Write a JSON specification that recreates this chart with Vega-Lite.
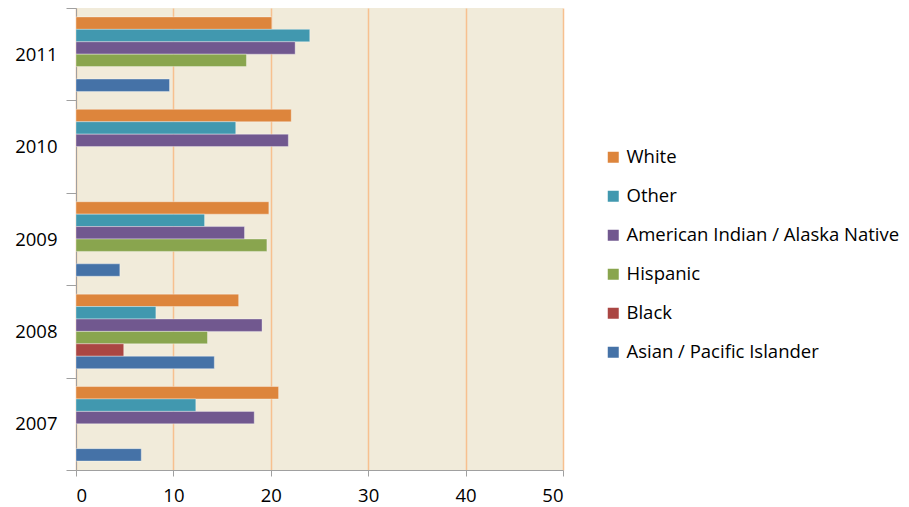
{
  "$schema": "https://vega.github.io/schema/vega-lite/v6.json",
  "width": 487,
  "height": 462,
  "autosize": {"type": "none"},
  "padding": {"left": 76, "top": 8, "right": 346, "bottom": 37},
  "background": "#ffffff",
  "config": {
    "view": {"fill": "#F1EBDA", "stroke": null},
    "font": "Open Sans"
  },
  "data": {
    "values": [
      {"year": "2011", "race": "White", "value": 20.1},
      {"year": "2011", "race": "Other", "value": 24.0},
      {"year": "2011", "race": "American Indian / Alaska Native", "value": 22.5},
      {"year": "2011", "race": "Hispanic", "value": 17.5},
      {"year": "2011", "race": "Asian / Pacific Islander", "value": 9.6},
      {"year": "2010", "race": "White", "value": 22.1},
      {"year": "2010", "race": "Other", "value": 16.4},
      {"year": "2010", "race": "American Indian / Alaska Native", "value": 21.8},
      {"year": "2009", "race": "White", "value": 19.8},
      {"year": "2009", "race": "Other", "value": 13.2},
      {"year": "2009", "race": "American Indian / Alaska Native", "value": 17.3},
      {"year": "2009", "race": "Hispanic", "value": 19.6},
      {"year": "2009", "race": "Asian / Pacific Islander", "value": 4.5},
      {"year": "2008", "race": "White", "value": 16.7},
      {"year": "2008", "race": "Other", "value": 8.2},
      {"year": "2008", "race": "American Indian / Alaska Native", "value": 19.1},
      {"year": "2008", "race": "Hispanic", "value": 13.5},
      {"year": "2008", "race": "Black", "value": 4.9},
      {"year": "2008", "race": "Asian / Pacific Islander", "value": 14.2},
      {"year": "2007", "race": "White", "value": 20.8},
      {"year": "2007", "race": "Other", "value": 12.3},
      {"year": "2007", "race": "American Indian / Alaska Native", "value": 18.3},
      {"year": "2007", "race": "Asian / Pacific Islander", "value": 6.7}
    ]
  },
  "mark": {"type": "bar", "stroke": "#ffffff", "strokeOpacity": 0.35, "strokeWidth": 1},
  "encoding": {
    "y": {
      "field": "year",
      "type": "nominal",
      "sort": ["2011", "2010", "2009", "2008", "2007"],
      "scale": {"domain": ["2011", "2010", "2009", "2008", "2007"], "paddingInner": 0, "paddingOuter": 0},
      "axis": {
        "title": null,
        "tickBand": "extent",
        "domainColor": "#A0A0A0",
        "tickColor": "#A0A0A0",
        "tickSize": 10,
        "labelFontSize": 18.5,
        "labelColor": "#000000",
        "labelPadding": 9
      }
    },
    "yOffset": {
      "field": "race",
      "type": "nominal",
      "scale": {"domain": ["White", "Other", "American Indian / Alaska Native", "Hispanic", "Black", "Asian / Pacific Islander"], "paddingInner": 0, "paddingOuter": 0.72}
    },
    "x": {
      "field": "value",
      "type": "quantitative",
      "scale": {"domain": [0, 50], "nice": false},
      "axis": {
        "title": null,
        "values": [0, 10, 20, 30, 40, 50],
        "grid": true,
        "gridColor": "#F7C08F",
        "gridWidth": 1.5,
        "domainColor": "#A0A0A0",
        "tickColor": "#A0A0A0",
        "tickSize": 6,
        "labelFontSize": 18.5,
        "labelColor": "#000000",
        "labelPadding": 10
      }
    },
    "color": {
      "field": "race",
      "type": "nominal",
      "scale": {
        "domain": ["White", "Other", "American Indian / Alaska Native", "Hispanic", "Black", "Asian / Pacific Islander"],
        "range": ["#DD853C", "#4198AF", "#71588F", "#89A54E", "#AA4643", "#4572A7"]
      },
      "legend": {
        "title": null,
        "orient": "none",
        "legendX": 528,
        "legendY": 140,
        "symbolType": "square",
        "symbolSize": 121,
        "symbolStrokeWidth": 0,
        "labelFontSize": 18.5,
        "labelColor": "#000000",
        "labelOffset": 4,
        "rowPadding": 20,
        "labelLimit": 400
      }
    }
  }
}
